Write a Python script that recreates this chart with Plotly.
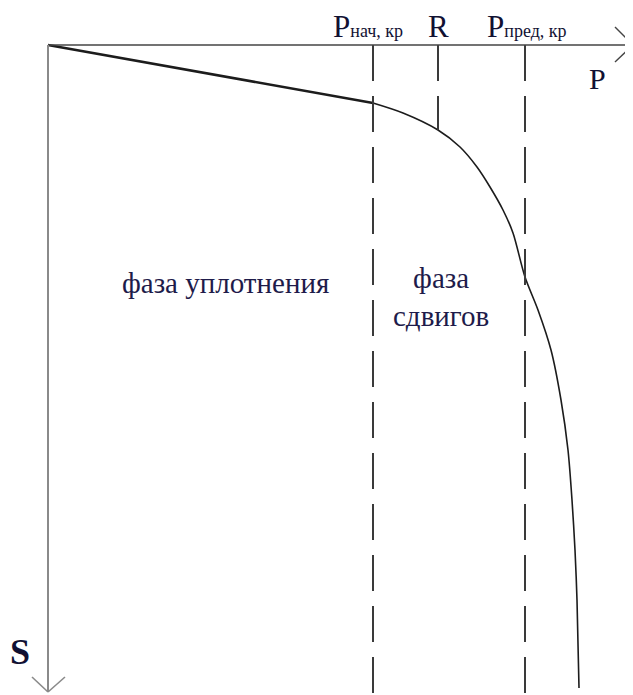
import plotly.graph_objects as go

# load P (horizontal) and settlement S (vertical, downward), arbitrary units
p_curve = [0, 325, 355, 390, 412, 429, 442, 455, 465, 477, 490, 503, 513, 520, 524, 527, 529, 531]
s_curve = [0, 58, 68, 85, 102, 122, 142, 165, 188, 232, 265, 305, 355, 405, 455, 505, 555, 643]

p_nach = 325     # P нач, кр
p_r = 390        # R
p_pred = 477     # P пред, кр
s_r = 85         # settlement at R
s_max = 650
p_max = 585

serif = "Liberation Serif"
ink = "#1c1c1c"
txt = "#1e1b4a"

fig = go.Figure()

# linear (compaction) part - thicker
fig.add_trace(go.Scatter(x=p_curve[:2], y=s_curve[:2], mode="lines",
                         line=dict(color=ink, width=2.6), hoverinfo="skip"))
# curved part
fig.add_trace(go.Scatter(x=p_curve[1:], y=s_curve[1:], mode="lines",
                         line=dict(color=ink, width=1.6, shape="spline", smoothing=0.8),
                         hoverinfo="skip"))

dash = "36px,15px"
for px_, s_end in [(p_nach, s_max), (p_r, s_r), (p_pred, s_max)]:
    fig.add_shape(type="line", x0=px_, x1=px_, y0=0, y1=s_end,
                  line=dict(color="#3a3a3a", width=2, dash=dash))

# axes with open arrow heads
fig.add_shape(type="line", x0=0, x1=p_max, y0=0, y1=0, line=dict(color="#444", width=1.6))
fig.add_shape(type="line", x0=p_max - 18, x1=p_max, y0=-18, y1=0, line=dict(color="#444", width=1.4))
fig.add_shape(type="line", x0=p_max - 18, x1=p_max, y0=17, y1=0, line=dict(color="#444", width=1.4))
fig.add_shape(type="line", x0=0, x1=0, y0=0, y1=647, line=dict(color="#8a8a8a", width=2))
fig.add_shape(type="line", x0=-16, x1=0, y0=632, y1=647, line=dict(color="#8a8a8a", width=1.6))
fig.add_shape(type="line", x0=17, x1=0, y0=632, y1=647, line=dict(color="#8a8a8a", width=1.6))

sub = "<span style='font-size:18px'>%s</span>"
labels = [
    (320, -19, "P" + sub % "нач, кр", 31),
    (390, -19, "R", 31),
    (479, -19, "P" + sub % "пред, кр", 31),
    (549, 33, "P", 30),
    (-28, 607, "<b>S</b>", 36),
]
for x, y, t, sz in labels:
    fig.add_annotation(x=x, y=y, text=t, showarrow=False, xanchor="center", yanchor="middle",
                       borderpad=0, font=dict(family=serif, size=sz, color="#111133"))

fig.add_annotation(x=177, y=238, text="фаза уплотнения", showarrow=False,
                   font=dict(family=serif, size=29, color=txt))
fig.add_annotation(x=393, y=252, text="фаза<br>сдвигов", showarrow=False,
                   font=dict(family=serif, size=29, color=txt))

# page body has an 8px margin, so the figure is 8px smaller than the window
fig.update_layout(
    width=625, height=687,
    margin=dict(l=0, r=0, t=0, b=0),
    paper_bgcolor="white", plot_bgcolor="white",
    showlegend=False,
    xaxis=dict(range=[-40, 585], visible=False, fixedrange=True),
    yaxis=dict(range=[650, -37], visible=False, fixedrange=True),
)

fig.write_html("out.html")
